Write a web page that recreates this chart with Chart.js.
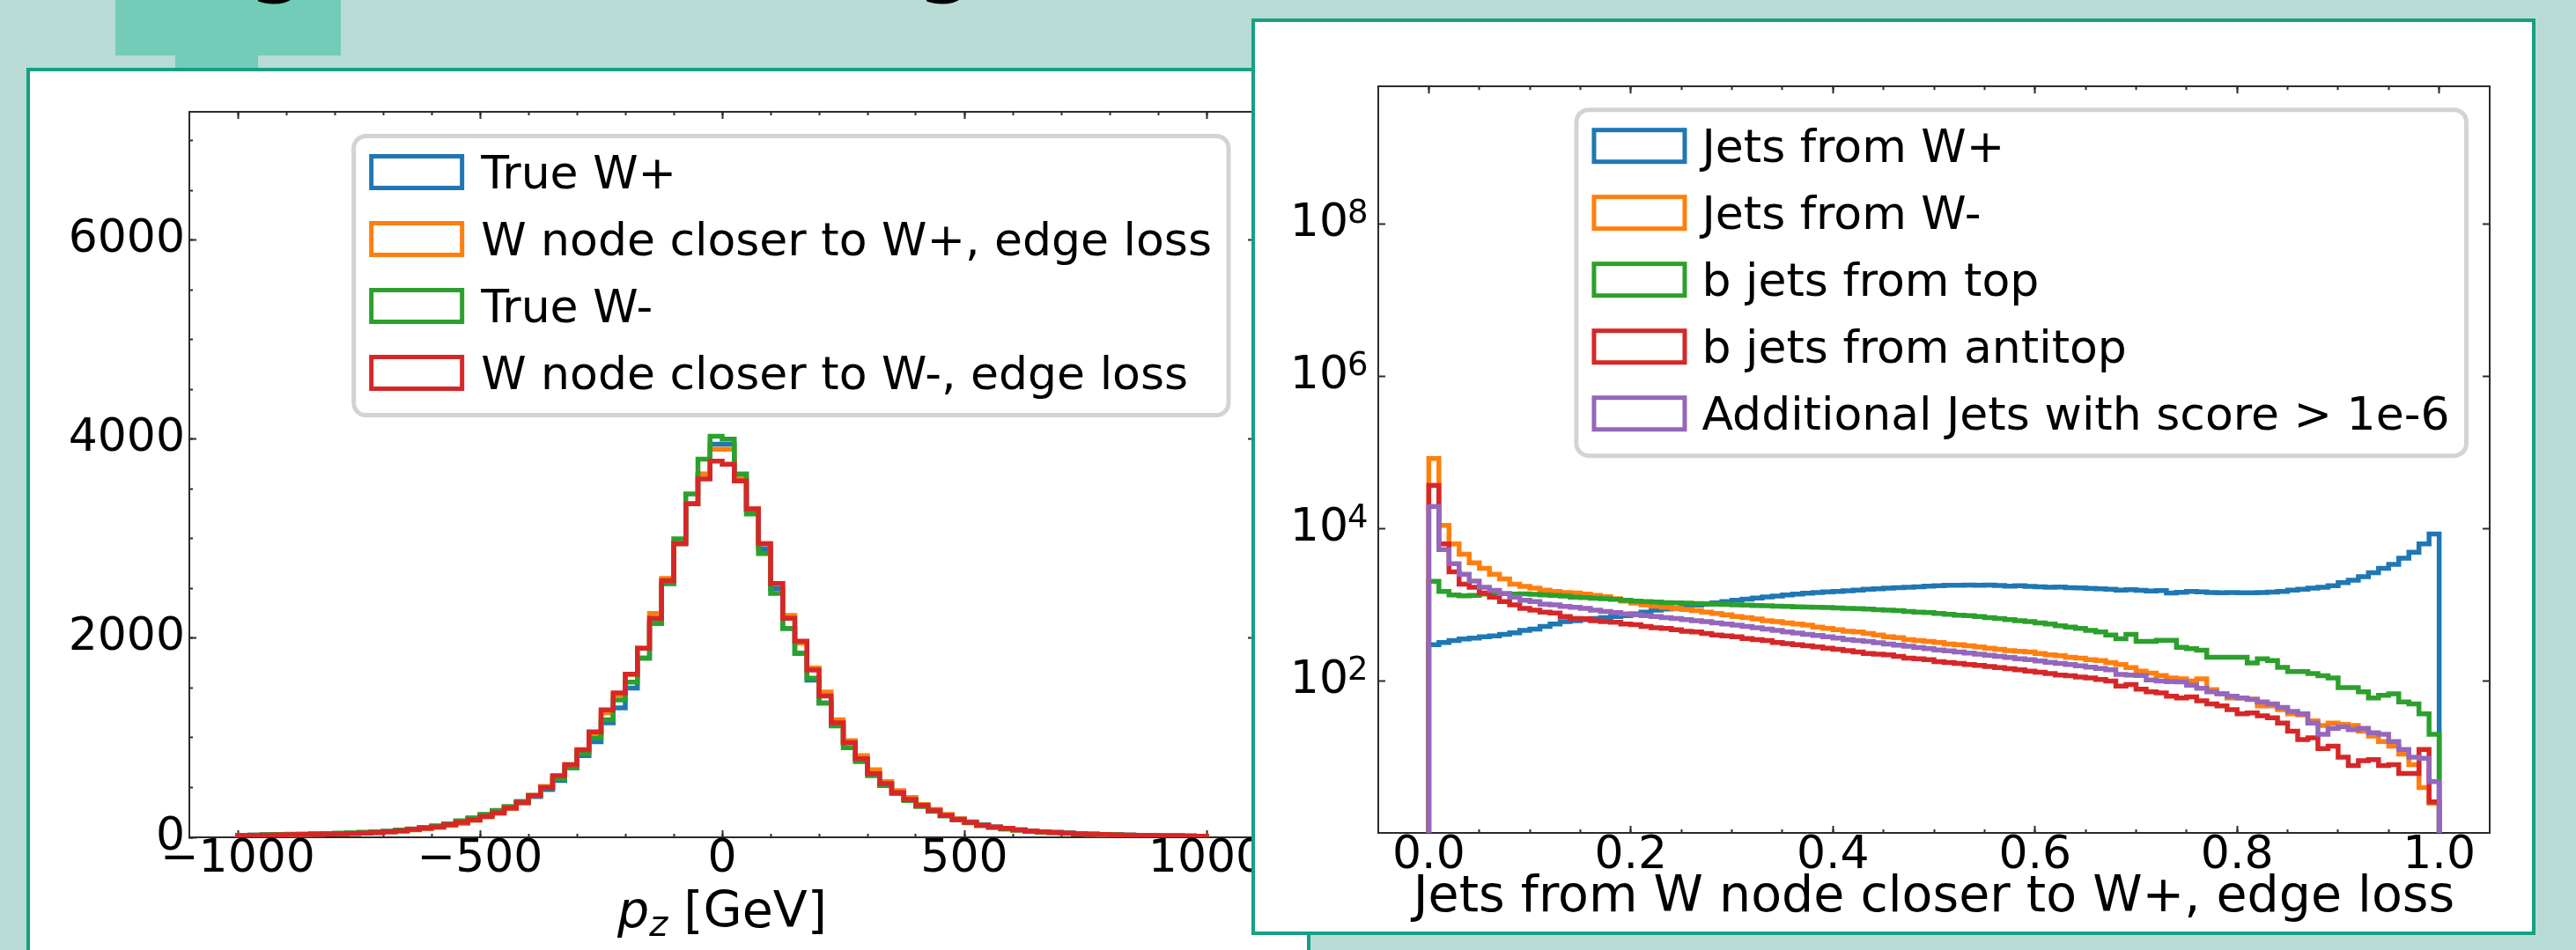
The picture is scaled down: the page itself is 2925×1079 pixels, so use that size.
<!DOCTYPE html>
<html>
<head>
<meta charset="utf-8">
<title>W p_z and jet assignment histograms</title>
<script src="https://cdn.jsdelivr.net/npm/chart.js@4.4.1/dist/chart.umd.min.js"></script>
<style>
  html, body { margin:0; padding:0; }
  body { width:2925px; height:1079px; overflow:hidden; position:relative; background:#b8dcd5; font-family:"DejaVu Sans", sans-serif; }
  .blk { position:absolute; background:#72ccb8; }
  .cut { position:absolute; font-weight:bold; font-size:90px; line-height:90px; font-family:"DejaVu Sans"; color:#000; top:-91px; }
  .panel { position:absolute; background:#fff; border:4px solid #16a085; box-sizing:border-box; }
  canvas { position:absolute; }
</style>
</head>
<body>
<div class="blk" style="left:131px;top:0;width:256px;height:63px"></div>
<div class="blk" style="left:199px;top:63px;width:94px;height:16px"></div>
<span class="cut" style="left:283px">g</span>
<span class="cut" style="left:1042px">g</span>
<div class="panel" style="left:30px;top:77px;width:1458px;height:1100px;z-index:1"></div>
<canvas id="pz" width="1450" height="998" style="left:34px;top:81px;z-index:2"></canvas>
<div class="panel" style="left:1421px;top:21px;width:1458px;height:1041px;z-index:3"></div>
<canvas id="jets" width="1449" height="1033" style="left:1425px;top:25px;z-index:4"></canvas>
<script>
// ---------------- left chart data: p_z histogram (80 bins, -1000 .. 1000) ----------------
const PZ_BIN_START = -1000;
const PZ_BIN_WIDTH = 25;
const pzLabels = ['True W+', 'W node closer to W+, edge loss', 'True W-', 'W node closer to W-, edge loss'];
const pzColors = ['#1f77b4', '#ff7f0e', '#2ca02c', '#d62728'];
const pzTrueWplus = [
  20,22,24,26,28,30,33,36,38,42, 46,50,58,68,80,95,110,135,160,190,
  225,260,300,350,410,480,570,700,820,960, 1150,1300,1500,1800,2150,2550,2950,3350,3650,3950,
  3950,3650,3300,2900,2500,2100,1850,1580,1350,1150, 950,780,650,540,450,380,320,270,220,185,
  155,125,105,90,75,63,55,48,42,37, 32,28,25,22,20,18,16,15,13,12];
const pzNodeWplus = [
  18,20,21,23,25,28,30,33,36,40, 44,48,55,63,75,88,100,120,140,170,
  205,240,290,345,420,510,610,730,870,1050, 1250,1430,1640,1900,2250,2600,2950,3350,3650,3900,
  3900,3600,3300,2950,2550,2230,1950,1700,1460,1180, 970,820,680,560,470,400,330,280,230,185,
  150,120,100,85,72,60,52,46,40,35, 31,27,24,21,19,17,15,14,12,11];
const pzTrueWminus = [
  20,23,26,28,30,32,35,38,42,45, 50,55,62,72,85,100,115,135,165,195,
  230,270,310,360,420,500,590,700,840,1000, 1180,1380,1560,1800,2150,2550,3000,3450,3800,4030,
  4000,3650,3250,2850,2450,2100,1850,1600,1350,1120, 900,760,620,520,440,370,310,260,215,175,
  145,120,100,85,72,62,54,48,42,37, 33,29,26,23,20,18,16,15,13,12];
const pzNodeWminus = [
  18,20,22,24,26,28,30,33,35,38, 42,47,55,65,80,90,105,125,150,175,
  210,245,295,350,420,500,620,730,880,1060, 1280,1450,1640,1900,2200,2580,2950,3350,3600,3780,
  3750,3580,3300,2950,2550,2200,1970,1680,1420,1150, 950,790,640,540,450,380,320,270,220,180,
  150,120,105,90,75,62,55,48,42,36, 32,28,25,22,20,18,16,15,13,12];
const pzXTicks = [-1000, -500, 0, 500, 1000];
const pzXTickLabels = ['\u22121000', '\u2212500', '0', '500', '1000'];
const pzXMinorTicks = [-1000,-900,-800,-700,-600,-500,-400,-300,-200,-100,0,100,200,300,400,500,600,700,800,900,1000];
const pzYTicks = [0, 2000, 4000, 6000];
const pzYTickLabels = ['0', '2000', '4000', '6000'];
const pzYMinorTicks = [0,500,1000,1500,2000,2500,3000,3500,4000,4500,5000,5500,6000,6500,7000];
const pzTitleMain = 'p';
const pzTitleSub = 'z';
const pzTitleRest = ' [GeV]';

// ---------------- right chart data: jet score histogram (100 bins, 0 .. 1) ----------------
const JET_BIN_START = 0;
const JET_BIN_WIDTH = 0.01;
const jetLabels = ['Jets from W+', 'Jets from W-', 'b jets from top', 'b jets from antitop', 'Additional Jets with score > 1e-6'];
const jetColors = ['#1f77b4', '#ff7f0e', '#2ca02c', '#d62728', '#9467bd'];
const jetsWplus = [
  300,320,340,355,365,380,390,410,430,460, 480,520,560,600,620,640,660,680,700,720,
  760,800,850,880,900,950,990,1020,1060,1100, 1150,1190,1230,1270,1300,1350,1380,1420,1450,1480,
  1500,1530,1560,1600,1620,1650,1680,1700,1720,1760, 1780,1800,1800,1820,1800,1820,1790,1760,1780,1740,
  1720,1700,1710,1680,1660,1640,1620,1600,1560,1580, 1550,1520,1540,1430,1460,1500,1480,1450,1440,1450,
  1440,1440,1450,1470,1500,1560,1600,1650,1700,1780, 1950,2100,2340,2640,3000,3400,4100,4900,6300,8500];
const jetsWminus = [
  83000,11000,6300,4600,3550,3000,2520,2190,1860,1750, 1650,1560,1500,1450,1430,1380,1330,1280,1200,1120,
  1050,1000,960,930,900,870,840,800,770,740, 700,680,650,620,600,580,560,540,510,490,
  470,450,440,420,400,380,370,350,340,330, 320,305,300,290,280,270,260,250,245,240,
  230,220,215,205,200,190,185,175,165,150, 135,127,118,110,107,100,107,77,68,60,
  60,58,47,47,42,37,36,30,26,28, 27,26,22,19,16,14,11,8,4,2.5];
const jetsBTop = [
  2030,1500,1350,1310,1330,1380,1430,1400,1380,1390, 1370,1350,1330,1300,1260,1240,1220,1200,1180,1150,
  1120,1100,1090,1070,1060,1050,1040,1030,1020,1010, 1000,990,980,970,960,950,940,935,930,920,
  910,900,890,880,860,850,840,820,800,790, 770,750,730,720,700,680,660,640,620,600,
  580,560,530,510,490,460,440,400,359,409, 330,330,342,342,277,265,254,205,205,205,
  205,172,196,185,151,133,133,125,117,110, 82,82,72,60,65,68,53,50,37,20];
const jetsBAntitop = [
  37000,6300,2700,1860,1700,1430,1260,1100,1000,900, 850,800,780,700,660,655,620,600,590,560,
  550,520,500,490,470,450,440,420,400,390, 380,360,350,340,320,310,300,290,280,270,
  260,250,240,230,225,220,210,200,195,190, 180,175,170,165,160,155,150,145,140,135,
  130,125,120,117,113,110,105,100,86,90, 78,72,70,63,60,62,55,50,47,42,
  37,38,35,33,28,22,17,18,13,14, 10,7.8,9,9.3,7.8,8,6.1,6.1,12.6,2.6];
const jetsAdditional = [
  19500,5300,3470,2520,2050,1700,1550,1400,1260,1150, 1100,1020,1000,950,930,900,850,820,790,760,
  740,720,700,680,660,640,620,600,580,560, 540,520,500,480,460,440,425,410,395,380,
  365,350,340,330,318,305,295,285,275,265, 255,248,240,232,225,218,210,203,196,190,
  183,176,170,165,158,152,146,140,122,120, 118,103,100,98,97,88,80,72,68,63,
  60,57,53,50,45,40,37,28,20,24, 25,23,24,21,20,16,12.6,10,9.7,4.8];
const jetXTicks = [0, 0.2, 0.4, 0.6, 0.8, 1.0];
const jetXTickLabels = ['0.0', '0.2', '0.4', '0.6', '0.8', '1.0'];
const jetXMinorTicks = [0,0.05,0.1,0.15,0.2,0.25,0.3,0.35,0.4,0.45,0.5,0.55,0.6,0.65,0.7,0.75,0.8,0.85,0.9,0.95,1.0];
const jetYTicks = [1e2, 1e4, 1e6, 1e8];
const jetYTickBases = ['10', '10', '10', '10'];
const jetYTickExponents = ['2', '4', '6', '8'];
const jetXTitle = 'Jets from W node closer to W+, edge loss';

// ---------------- helpers ----------------
const FAMILY = 'DejaVu Sans';
const INK = '#2b2b2b';
const LINE_W = 5.5;
Chart.defaults.font.family = FAMILY;

function binEdges(start, width, n) {
  const e = [];
  for (let i = 0; i <= n; i++) e.push(+(start + i * width).toFixed(6));
  return e;
}
function stepPoints(edges, vals, base) {
  const pts = [{x: edges[0], y: base}];
  vals.forEach((v, i) => pts.push({x: edges[i], y: v}));
  pts.push({x: edges[edges.length - 1], y: vals[vals.length - 1]});
  pts.push({x: edges[edges.length - 1], y: base});
  return pts;
}
function stepDataset(label, color, edges, vals, base, order) {
  return {
    label, data: stepPoints(edges, vals, base),
    borderColor: color, backgroundColor: color, borderWidth: LINE_W,
    pointRadius: 0, pointHoverRadius: 0, fill: false, stepped: 'before',
    tension: 0, clip: 0, order, borderJoinStyle: 'miter', borderCapStyle: 'butt'
  };
}
function makeAxis(o) {
  const horiz = o.pos === 'top' || o.pos === 'bottom';
  const ax = {
    type: o.type || 'linear',
    position: o.pos,
    axis: horiz ? 'x' : 'y',
    min: o.min, max: o.max,
    bounds: 'data',
    weight: o.weight,
    offset: false,
    afterBuildTicks: s => { s.ticks = o.ticks.map(v => ({value: v})); },
    afterFit: s => { if (horiz) s.height = o.size; else s.width = o.size; },
    ticks: o.labels ? {
      display: true, autoSkip: false, maxRotation: 0, minRotation: 0,
      padding: o.pad, color: '#000', font: {family: FAMILY, size: o.fontSize},
      callback: (v, i) => o.labels[i]
    } : {display: false},
    grid: {display: true, drawOnChartArea: false, drawTicks: true, tickLength: -o.len, tickWidth: 2, tickColor: INK},
    border: {display: !!o.border, color: INK, width: 2},
    title: {display: false}
  };
  if (o.title) {
    ax.title = {display: true, text: o.title, color: '#000', font: {family: FAMILY, size: o.titleSize}, padding: {top: 0, bottom: o.titlePad}};
  }
  return ax;
}

const boxLegend = {
  id: 'boxLegend',
  afterDraw(chart, args, o) {
    const ctx = chart.ctx, a = chart.chartArea;
    const ds = chart.data.datasets;
    ctx.save();
    ctx.font = o.fontSize + 'px "' + FAMILY + '"';
    const tw = Math.max(...ds.map(d => ctx.measureText(d.label).width));
    const w = o.padL + o.handleW + o.gap + tw + o.padR;
    const h = o.padT + (ds.length - 1) * o.rowH + o.handleH + o.padB;
    const x0 = a.right - o.offR - w, y0 = a.top + o.offT;
    ctx.beginPath();
    ctx.roundRect(x0, y0, w, h, o.radius);
    ctx.fillStyle = 'rgba(255,255,255,0.8)';
    ctx.fill();
    ctx.lineWidth = o.frameW;
    ctx.strokeStyle = '#d3d3d3';
    ctx.stroke();
    const lw = 5;
    ds.forEach((d, i) => {
      const hx = x0 + o.padL, hy = y0 + o.padT + i * o.rowH;
      ctx.lineWidth = lw;
      ctx.strokeStyle = d.borderColor;
      ctx.strokeRect(hx + lw / 2, hy + lw / 2, o.handleW - lw, o.handleH - lw);
      ctx.fillStyle = '#000';
      ctx.textBaseline = 'alphabetic';
      ctx.textAlign = 'left';
      ctx.fillText(d.label, hx + o.handleW + o.gap, hy + o.handleH / 2 + 0.36 * o.fontSize);
    });
    ctx.restore();
  }
};

const mathTitle = {
  id: 'mathTitle',
  afterDraw(chart, args, o) {
    if (!o || !o.display) return;
    const ctx = chart.ctx, a = chart.chartArea;
    ctx.save();
    ctx.fillStyle = '#000';
    ctx.textBaseline = 'alphabetic';
    ctx.textAlign = 'left';
    const fI = 'italic ' + o.size + 'px "' + FAMILY + '"';
    const fS = 'italic ' + o.subSize + 'px "' + FAMILY + '"';
    const fR = o.size + 'px "' + FAMILY + '"';
    ctx.font = fI; const w1 = ctx.measureText(o.main).width;
    ctx.font = fS; const w2 = ctx.measureText(o.sub).width;
    ctx.font = fR; const w3 = ctx.measureText(o.rest).width;
    let x = (a.left + a.right) / 2 - (w1 + w2 + w3) / 2;
    const y = a.bottom + o.dy;
    ctx.font = fI; ctx.fillText(o.main, x, y); x += w1;
    ctx.font = fS; ctx.fillText(o.sub, x, y + o.subDy); x += w2;
    ctx.font = fR; ctx.fillText(o.rest, x, y);
    ctx.restore();
  }
};

// superscript exponents next to the "10" tick labels of a log axis
const logExponents = {
  id: 'logExponents',
  afterDraw(chart, args, o) {
    if (!o || !o.scaleId) return;
    const s = chart.scales[o.scaleId];
    const ctx = chart.ctx;
    ctx.save();
    ctx.font = o.size + 'px "' + FAMILY + '"';
    ctx.fillStyle = '#000';
    ctx.textAlign = 'left';
    ctx.textBaseline = 'alphabetic';
    s.ticks.forEach((t, i) => {
      ctx.fillText(o.exponents[i], chart.chartArea.left - o.dx, s.getPixelForValue(t.value) + o.dy);
    });
    ctx.restore();
  }
};

// ---------------- left chart ----------------
const pzEdges = binEdges(PZ_BIN_START, PZ_BIN_WIDTH, pzTrueWplus.length);
const pzSeries = [pzTrueWplus, pzNodeWplus, pzTrueWminus, pzNodeWminus];
const PZ_X = {min: -1100, max: 1100};
const PZ_Y = {min: 0, max: 7290};

new Chart(document.getElementById('pz'), {
  type: 'line',
  data: {
    datasets: pzSeries.map((vals, i) => stepDataset(pzLabels[i], pzColors[i], pzEdges, vals, 0, pzSeries.length - 1 - i))
  },
  options: {
    responsive: false, animation: false, devicePixelRatio: 1,
    events: [],
    layout: {padding: {left: 0, top: 46, right: 59, bottom: 0}},
    scales: {
      x: makeAxis({pos: 'bottom', ...PZ_X, ticks: pzXTicks, labels: pzXTickLabels, len: 8, weight: 1, size: 128, pad: 2, fontSize: 52, border: true}),
      xMinorB: makeAxis({pos: 'bottom', ...PZ_X, ticks: pzXMinorTicks, len: 4, weight: 0, size: 0}),
      xTop: makeAxis({pos: 'top', ...PZ_X, ticks: pzXTicks, len: 8, weight: 1, size: 0, border: true}),
      xMinorT: makeAxis({pos: 'top', ...PZ_X, ticks: pzXMinorTicks, len: 4, weight: 0, size: 0}),
      y: makeAxis({pos: 'left', ...PZ_Y, ticks: pzYTicks, labels: pzYTickLabels, len: 8, weight: 1, size: 181, pad: 13, fontSize: 52, border: true}),
      yMinorL: makeAxis({pos: 'left', ...PZ_Y, ticks: pzYMinorTicks, len: 4, weight: 0, size: 0}),
      yRight: makeAxis({pos: 'right', ...PZ_Y, ticks: pzYTicks, len: 8, weight: 1, size: 0, border: true}),
      yMinorR: makeAxis({pos: 'right', ...PZ_Y, ticks: pzYMinorTicks, len: 4, weight: 0, size: 0})
    },
    plugins: {
      legend: {display: false},
      tooltip: {enabled: false},
      boxLegend: {fontSize: 52, padL: 17.5, handleW: 108, handleH: 41, gap: 19, padR: 19, padT: 20.5, padB: 27.5, rowH: 76, offR: 30, offT: 27.5, radius: 14, frameW: 5},
      mathTitle: {display: true, main: pzTitleMain, sub: pzTitleSub, rest: pzTitleRest, size: 57, subSize: 40, subDy: 10, dy: 102}
    }
  },
  plugins: [boxLegend, mathTitle]
});

// ---------------- right chart ----------------
const jetEdges = binEdges(JET_BIN_START, JET_BIN_WIDTH, jetsWplus.length);
const jetSeries = [jetsWplus, jetsWminus, jetsBTop, jetsBAntitop, jetsAdditional];
const JET_X = {min: -0.05, max: 1.05};
const JET_Y = {min: 1.016, max: 6.33e9};

new Chart(document.getElementById('jets'), {
  type: 'line',
  data: {
    datasets: jetSeries.map((vals, i) => stepDataset(jetLabels[i], jetColors[i], jetEdges, vals, 0.5, jetSeries.length - 1 - i))
  },
  options: {
    responsive: false, animation: false, devicePixelRatio: 1,
    events: [],
    layout: {padding: {left: 0, top: 51, right: 47, bottom: 0}},
    scales: {
      x: makeAxis({pos: 'bottom', ...JET_X, ticks: jetXTicks, labels: jetXTickLabels, len: 8, weight: 1, size: 112, pad: 3, fontSize: 52, border: true, title: jetXTitle, titleSize: 57, titlePad: 4}),
      xMinorB: makeAxis({pos: 'bottom', ...JET_X, ticks: jetXMinorTicks, len: 4, weight: 0, size: 0}),
      xTop: makeAxis({pos: 'top', ...JET_X, ticks: jetXTicks, len: 8, weight: 1, size: 0, border: true}),
      xMinorT: makeAxis({pos: 'top', ...JET_X, ticks: jetXMinorTicks, len: 4, weight: 0, size: 0}),
      y: makeAxis({type: 'logarithmic', pos: 'left', ...JET_Y, ticks: jetYTicks, labels: jetYTickBases, len: 8, weight: 1, size: 140, pad: 42, fontSize: 52, border: true}),
      yRight: makeAxis({type: 'logarithmic', pos: 'right', ...JET_Y, ticks: jetYTicks, len: 8, weight: 1, size: 0, border: true})
    },
    plugins: {
      legend: {display: false},
      tooltip: {enabled: false},
      boxLegend: {fontSize: 52, padL: 17.5, handleW: 108, handleH: 41, gap: 17, padR: 19, padT: 20.5, padB: 27.5, rowH: 76, offR: 26.5, offT: 26.5, radius: 14, frameW: 5},
      logExponents: {scaleId: 'y', exponents: jetYTickExponents, size: 37, dx: 35, dy: -1}
    }
  },
  plugins: [boxLegend, logExponents]
});
</script>
</body>
</html>
